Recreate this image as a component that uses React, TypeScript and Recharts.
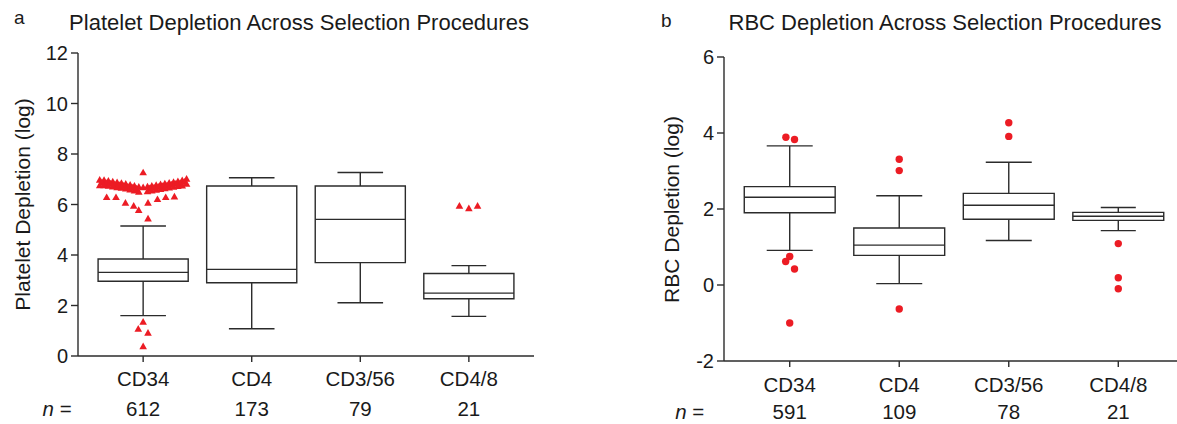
import { ComposedChart, XAxis, YAxis, Scatter, ReferenceArea, ReferenceLine } from 'recharts';

const groups = ['CD34', 'CD4', 'CD3/56', 'CD4/8'];

// Platelet depletion (log)
const plateletN = [612, 173, 79, 21];
const plateletMin = [1.6, 1.08, 2.11, 1.57];
const plateletQ1 = [2.96, 2.9, 3.7, 2.27];
const plateletMedian = [3.31, 3.43, 5.41, 2.49];
const plateletQ3 = [3.84, 6.73, 6.73, 3.27];
const plateletMax = [5.15, 7.06, 7.27, 3.58];
// outliers as [group, jitter, value]
const plateletOutliers: [number, number, number][] = [
  [0, 0, 7.27],
  [0, -0.4, 6.98], [0, -0.36, 6.97], [0, -0.32, 6.94], [0, -0.28, 6.91], [0, -0.24, 6.88],
  [0, -0.2, 6.85], [0, -0.16, 6.82], [0, -0.12, 6.78], [0, -0.08, 6.74], [0, -0.04, 6.7],
  [0, 0, 6.68], [0, 0.04, 6.71], [0, 0.08, 6.74], [0, 0.12, 6.77], [0, 0.16, 6.8],
  [0, 0.2, 6.83], [0, 0.24, 6.86], [0, 0.28, 6.89], [0, 0.32, 6.92], [0, 0.36, 6.96], [0, 0.4, 7.02],
  [0, -0.38, 6.88], [0, -0.34, 6.85], [0, -0.3, 6.83], [0, -0.26, 6.8], [0, -0.22, 6.77],
  [0, -0.18, 6.74], [0, -0.14, 6.7], [0, -0.1, 6.67], [0, -0.06, 6.63], [0, 0.06, 6.64],
  [0, 0.1, 6.67], [0, 0.14, 6.7], [0, 0.18, 6.73], [0, 0.22, 6.76], [0, 0.26, 6.79],
  [0, 0.3, 6.82], [0, 0.34, 6.85], [0, 0.38, 6.9],
  [0, -0.4, 6.76], [0, -0.36, 6.76], [0, -0.32, 6.74], [0, -0.28, 6.71], [0, -0.24, 6.68],
  [0, -0.2, 6.66], [0, -0.16, 6.63], [0, -0.12, 6.59], [0, -0.08, 6.55], [0, -0.04, 6.5],
  [0, 0.04, 6.52], [0, 0.08, 6.55], [0, 0.12, 6.58], [0, 0.16, 6.61], [0, 0.2, 6.64],
  [0, 0.24, 6.67], [0, 0.28, 6.7], [0, 0.32, 6.73], [0, 0.36, 6.75], [0, 0.4, 6.82],
  [0, -0.336, 6.29], [0, -0.25, 6.29], [0, -0.163, 6.07], [0, -0.087, 5.95], [0, -0.041, 5.78],
  [0, 0.045, 6.07], [0, 0.132, 6.21], [0, 0.208, 6.29], [0, 0.288, 6.31], [0, 0.045, 5.44],
  [0, 0, 1.35], [0, -0.045, 1.08], [0, 0.045, 0.92], [0, 0, 0.38],
  [3, -0.087, 5.95], [3, 0, 5.85], [3, 0.08, 5.95],
];

// RBC depletion (log)
const rbcN = [591, 109, 78, 21];
const rbcMin = [0.91, 0.035, 1.17, 1.43];
const rbcQ1 = [1.9, 0.78, 1.73, 1.7];
const rbcMedian = [2.31, 1.05, 2.1, 1.81];
const rbcQ3 = [2.59, 1.5, 2.41, 1.91];
const rbcMax = [3.66, 2.35, 3.23, 2.04];
const rbcOutliers: [number, number, number][] = [
  [0, -0.035, 3.89], [0, 0.044, 3.83], [0, 0, 0.75], [0, -0.037, 0.62], [0, 0.044, 0.42], [0, 0, -1.0],
  [1, 0, 3.31], [1, 0, 3.01], [1, 0, -0.63],
  [2, 0, 4.27], [2, 0, 3.91],
  [3, 0, 1.09], [3, 0, 0.19], [3, 0, -0.1],
];

const RED = '#ec1c24';
const INK = '#2b2b2b';
const FONT = '"Liberation Sans", Arial, sans-serif';
const BOX_HALF = 0.415;
const CAP_HALF = [0.21, 0.21, 0.21, 0.16];

const Triangle = (p: any) => (
  <path d={`M${p.cx},${p.cy - 3.8} L${p.cx + 3.8},${p.cy + 2.9} L${p.cx - 3.8},${p.cy + 2.9} Z`} fill={RED} />
);
const Dot = (p: any) => <circle cx={p.cx} cy={p.cy} r={3.7} fill={RED} />;

function GroupTick(props: any) {
  const { x, y, payload, counts, nameDy, countDy, nOffset } = props;
  const i = payload.value - 1;
  return (
    <g fontFamily={FONT} fontSize={20.5} fill="#1a1a1a">
      <text x={x} y={y + nameDy} textAnchor="middle">{groups[i]}</text>
      <text x={x} y={y + countDy} textAnchor="middle">{counts[i]}</text>
      {i === 0 && (
        <text x={x + nOffset} y={y + countDy} textAnchor="middle">
          <tspan fontStyle="italic">n</tspan> =
        </text>
      )}
    </g>
  );
}

interface PanelProps {
  left: number;
  width: number;
  margin: { top: number; right: number; bottom: number; left: number };
  yWidth: number;
  xHeight: number;
  yDomain: [number, number];
  yTicks: number[];
  counts: number[];
  mins: number[];
  q1: number[];
  medians: number[];
  q3: number[];
  maxs: number[];
  outliers: [number, number, number][];
  shape: any;
  nameDy: number;
  countDy: number;
  nOffset: number;
}

function Panel(p: PanelProps) {
  const points = p.outliers.map(([g, j, v]) => ({ x: g + 1 + j, y: v }));
  return (
    <div style={{ position: 'absolute', left: p.left, top: 0 }}>
      <ComposedChart width={p.width} height={424} margin={p.margin}>
        <XAxis
          type="number"
          dataKey="x"
          domain={[0.4, 4.6]}
          ticks={[1, 2, 3, 4]}
          interval={0}
          height={p.xHeight}
          tickSize={6}
          tickMargin={0}
          axisLine={{ stroke: INK, strokeWidth: 1.4 }}
          tickLine={{ stroke: INK, strokeWidth: 1.4 }}
          tick={<GroupTick counts={p.counts} nameDy={p.nameDy} countDy={p.countDy} nOffset={p.nOffset} />}
        />
        <YAxis
          type="number"
          dataKey="y"
          domain={p.yDomain}
          ticks={p.yTicks}
          interval={0}
          width={p.yWidth}
          tickSize={7}
          tickMargin={3}
          axisLine={{ stroke: INK, strokeWidth: 1.4 }}
          tickLine={{ stroke: INK, strokeWidth: 1.4 }}
          tick={{ fill: '#1a1a1a', fontSize: 20, fontFamily: FONT }}
        />
        {groups.map((g, i) => (
          <ReferenceArea
            key={`box-${g}`}
            x1={i + 1 - BOX_HALF}
            x2={i + 1 + BOX_HALF}
            y1={p.q1[i]}
            y2={p.q3[i]}
            fill="none"
            fillOpacity={0}
            stroke={INK}
            strokeWidth={1.4}
            ifOverflow="visible"
          />
        ))}
        {groups.map((g, i) => (
          <ReferenceLine
            key={`med-${g}`}
            segment={[{ x: i + 1 - BOX_HALF, y: p.medians[i] }, { x: i + 1 + BOX_HALF, y: p.medians[i] }]}
            stroke={INK}
            strokeWidth={1.4}
            ifOverflow="visible"
          />
        ))}
        {groups.map((g, i) => (
          <ReferenceLine
            key={`wlo-${g}`}
            segment={[{ x: i + 1, y: p.mins[i] }, { x: i + 1, y: p.q1[i] }]}
            stroke={INK}
            strokeWidth={1.4}
            ifOverflow="visible"
          />
        ))}
        {groups.map((g, i) => (
          <ReferenceLine
            key={`whi-${g}`}
            segment={[{ x: i + 1, y: p.q3[i] }, { x: i + 1, y: p.maxs[i] }]}
            stroke={INK}
            strokeWidth={1.4}
            ifOverflow="visible"
          />
        ))}
        {groups.map((g, i) => (
          <ReferenceLine
            key={`clo-${g}`}
            segment={[{ x: i + 1 - CAP_HALF[i], y: p.mins[i] }, { x: i + 1 + CAP_HALF[i], y: p.mins[i] }]}
            stroke={INK}
            strokeWidth={1.4}
            ifOverflow="visible"
          />
        ))}
        {groups.map((g, i) => (
          <ReferenceLine
            key={`chi-${g}`}
            segment={[{ x: i + 1 - CAP_HALF[i], y: p.maxs[i] }, { x: i + 1 + CAP_HALF[i], y: p.maxs[i] }]}
            stroke={INK}
            strokeWidth={1.4}
            ifOverflow="visible"
          />
        ))}
        <Scatter data={points} shape={p.shape} isAnimationActive={false} />
      </ComposedChart>
    </div>
  );
}

export default function App() {
  return (
    <div style={{ position: 'absolute', left: 0, top: 0, width: 1177, height: 424, overflow: 'hidden', background: '#fff' }}>
      <Panel
        left={0}
        width={560}
        margin={{ top: 53, right: 26, bottom: 8, left: 0 }}
        yWidth={78}
        xHeight={60}
        yDomain={[0, 12]}
        yTicks={[0, 2, 4, 6, 8, 10, 12]}
        counts={plateletN}
        mins={plateletMin}
        q1={plateletQ1}
        medians={plateletMedian}
        q3={plateletQ3}
        maxs={plateletMax}
        outliers={plateletOutliers}
        shape={Triangle}
        nameDy={24}
        countDy={54}
        nOffset={-86}
      />
      <Panel
        left={590}
        width={594}
        margin={{ top: 57, right: 0, bottom: 8, left: 0 }}
        yWidth={134}
        xHeight={55}
        yDomain={[-2, 6]}
        yTicks={[-2, 0, 2, 4, 6]}
        counts={rbcN}
        mins={rbcMin}
        q1={rbcQ1}
        medians={rbcMedian}
        q3={rbcQ3}
        maxs={rbcMax}
        outliers={rbcOutliers}
        shape={Dot}
        nameDy={25}
        countDy={52}
        nOffset={-100}
      />
      <svg width={1177} height={424} style={{ position: 'absolute', left: 0, top: 0, pointerEvents: 'none' }} fontFamily={FONT} fill="#1a1a1a">
        <text x={14} y={24} fontSize={19}>a</text>
        <text x={299} y={30} fontSize={22} textAnchor="middle">Platelet Depletion Across Selection Procedures</text>
        <text x={661} y={27} fontSize={19}>b</text>
        <text x={945} y={30} fontSize={22} textAnchor="middle">RBC Depletion Across Selection Procedures</text>
        <text x={22.5} y={204.5} fontSize={21} textAnchor="middle" dominantBaseline="central" transform="rotate(-90 22.5 204.5)">Platelet Depletion (log)</text>
        <text x={671.5} y={209.5} fontSize={21} textAnchor="middle" dominantBaseline="central" transform="rotate(-90 671.5 209.5)">RBC Depletion (log)</text>
      </svg>
    </div>
  );
}
